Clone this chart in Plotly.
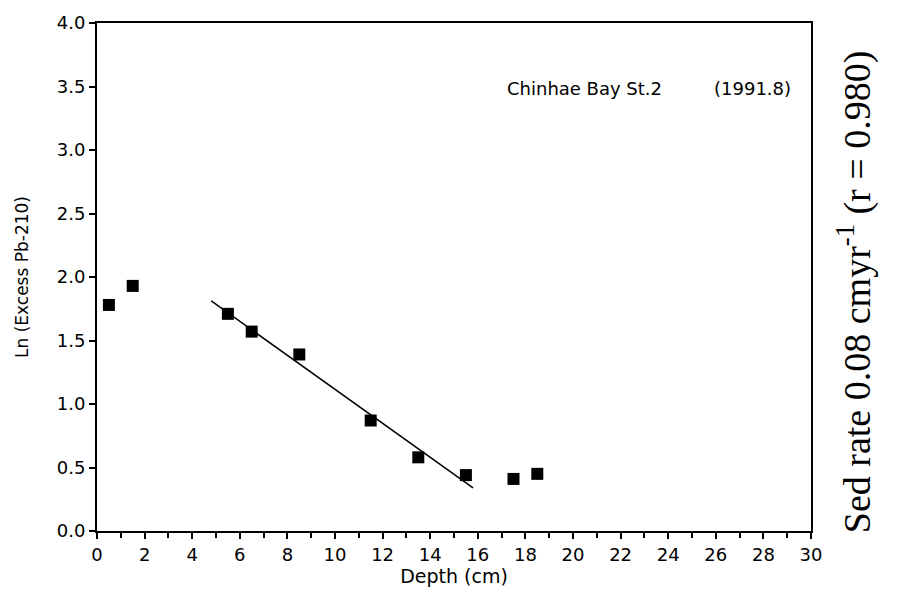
import numpy as np
import plotly.graph_objects as go

depth = [0.5, 1.5, 5.5, 6.5, 8.5, 11.5, 13.5, 15.5, 17.5, 18.5]
ln_pb = [1.78, 1.93, 1.71, 1.57, 1.39, 0.87, 0.58, 0.44, 0.41, 0.45]

fit_idx = [2, 3, 4, 5, 6, 7]
fit_range = [4.8, 15.8]

fx = np.array([depth[i] for i in fit_idx])
fy = np.array([ln_pb[i] for i in fit_idx])
slope, intercept = np.polyfit(fx, fy, 1)
lx = np.array(fit_range)
ly = slope * lx + intercept

fig = go.Figure()
fig.add_trace(go.Scatter(x=lx, y=ly, mode="lines",
                         line=dict(color="black", width=1.5), showlegend=False))
fig.add_trace(go.Scatter(x=depth, y=ln_pb, mode="markers",
                         marker=dict(symbol="square", size=12, color="black"),
                         showlegend=False))

tick_font = dict(family="DejaVu Sans", size=18, color="black")

fig.update_xaxes(range=[0, 30], tickmode="linear", tick0=0, dtick=2,
                 ticks="outside", ticklen=6, tickwidth=2, tickcolor="black",
                 minor=dict(ticks="outside", dtick=1, ticklen=5, tickwidth=2, tickcolor="black"),
                 showline=True, linecolor="black", linewidth=2, mirror=True,
                 showgrid=False, zeroline=False, tickfont=tick_font,
                 title=dict(text="Depth (cm)",
                            font=dict(family="DejaVu Sans", size=19, color="black"),
                            standoff=4))
fig.update_yaxes(range=[0, 4], tickmode="linear", tick0=0, dtick=0.5,
                 tickformat=".1f",
                 ticks="outside", ticklen=6, tickwidth=2, tickcolor="black",
                 showline=True, linecolor="black", linewidth=2, mirror=True,
                 showgrid=False, zeroline=False, tickfont=tick_font,
                 title=dict(text="Ln (Excess Pb-210)",
                            font=dict(family="DejaVu Sans", size=17, color="black"),
                            standoff=24))

label_font = dict(family="DejaVu Sans", size=18, color="black")
fig.add_annotation(x=0.5714, y=0.872, xref="paper", yref="paper",
                   text="Chinhae Bay St.2", showarrow=False,
                   xanchor="left", yanchor="middle", font=label_font)
fig.add_annotation(x=0.862, y=0.872, xref="paper", yref="paper",
                   text="(1991.8)", showarrow=False,
                   xanchor="left", yanchor="middle", font=label_font)

fig.add_annotation(x=1.0, y=0.47, xref="paper", yref="paper", xshift=43,
                   text="Sed rate 0.08 cmyr<sup>-1</sup> (r = 0.980)",
                   textangle=-90, showarrow=False,
                   xanchor="center", yanchor="middle",
                   font=dict(family="Liberation Serif, Times New Roman", size=38, color="black"))

fig.update_layout(width=900, height=596,
                  margin=dict(l=97, r=89, t=15, b=65),
                  plot_bgcolor="white", paper_bgcolor="white")

fig.write_html("out.html")
